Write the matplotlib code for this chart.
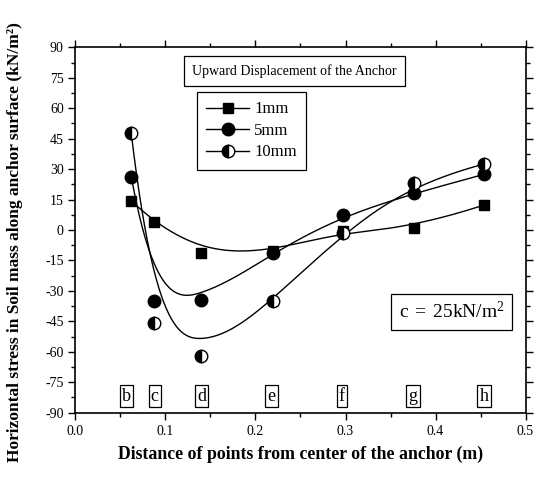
import numpy as np
import matplotlib
matplotlib.use("Agg")
import matplotlib.pyplot as plt
from matplotlib.ticker import MultipleLocator, FormatStrFormatter

plt.rcParams['font.family'] = ['Liberation Serif', 'DejaVu Serif']
plt.rcParams['axes.unicode_minus'] = False

# Measurement points along the anchor surface
point_names = ['b', 'c', 'd', 'e', 'f', 'g', 'h']
distance = [0.062, 0.087, 0.140, 0.219, 0.297, 0.376, 0.454]
label_pos = [0.057, 0.088, 0.140, 0.218, 0.296, 0.375, 0.454]

# Horizontal stress (kN/m^2) for each upward displacement
stress_1mm = [14.4, 3.8, -11.5, -10.5, -0.5, 1.1, 12.3]
stress_5mm = [26.3, -34.8, -34.5, -11.5, 7.4, 18.1, 27.4]
stress_10mm = [47.6, -46.0, -61.9, -34.8, -1.3, 23.3, 32.5]

series_names = ['1mm', '5mm', '10mm']


def bspline(xs, ys, n=300, k=3):
    """Clamped uniform B-spline using the data points as control points."""
    P = np.column_stack([xs, ys]).astype(float)
    m = len(P)
    inner = np.linspace(0, 1, m - k + 1)[1:-1]
    t = np.concatenate([np.zeros(k + 1), inner, np.ones(k + 1)])
    u = np.linspace(0, 1, n)
    u[-1] = 1 - 1e-12

    def basis(i, p, uu):
        if p == 0:
            return np.where((t[i] <= uu) & (uu < t[i + 1]), 1.0, 0.0)
        a = 0.0
        b = 0.0
        if t[i + p] != t[i]:
            a = (uu - t[i]) / (t[i + p] - t[i]) * basis(i, p - 1, uu)
        if t[i + p + 1] != t[i + 1]:
            b = (t[i + p + 1] - uu) / (t[i + p + 1] - t[i + 1]) * basis(i + 1, p - 1, uu)
        return a + b

    N = np.array([basis(i, k, u) for i in range(m)])
    C = N.T @ P
    return C[:, 0], C[:, 1]


fig = plt.figure(figsize=(5.38, 4.79), dpi=100)
ax = fig.add_axes([0.1403, 0.1384, 0.8365, 0.7629])

styles = [
    dict(marker='s', markersize=6.5, markerfacecolor='black'),
    dict(marker='o', markersize=9, markerfacecolor='black'),
    dict(marker='o', markersize=9, fillstyle='left', markerfacecolor='black',
         markerfacecoloralt='white'),
]
handles = []
for ys, name, st in zip([stress_1mm, stress_5mm, stress_10mm], series_names, styles):
    cx, cy = bspline(distance, ys)
    ax.plot(cx, cy, color='black', lw=1.0, zorder=2)
    ax.plot(distance, ys, linestyle='none', color='black', markeredgecolor='black',
            markeredgewidth=1.0, zorder=3, **st)
    h, = ax.plot([], [], color='black', lw=1.0, markeredgecolor='black', **st)
    handles.append(h)

ax.set_xlim(0.0, 0.5)
ax.set_ylim(-90, 90)
ax.xaxis.set_major_locator(MultipleLocator(0.1))
ax.xaxis.set_minor_locator(MultipleLocator(0.05))
ax.yaxis.set_major_locator(MultipleLocator(15))
ax.yaxis.set_minor_locator(MultipleLocator(7.5))
ax.tick_params(which='both', direction='out', top=True, right=True,
               labeltop=False, labelright=False, width=1.0, labelsize=10)
ax.tick_params(which='major', length=5)
ax.tick_params(which='minor', length=3)
ax.xaxis.set_major_formatter(FormatStrFormatter('%.1f'))
for s in ax.spines.values():
    s.set_linewidth(1.2)

ax.set_xlabel('Distance of points from center of the anchor (m)',
              fontsize=12.8, fontweight='bold', labelpad=6)
ax.set_ylabel('Horizontal stress in Soil mass along anchor surface (kN/m²)',
              fontsize=12.5, fontweight='bold')
ax.yaxis.set_label_coords(-0.117, 0.466)

# Point labels along the bottom of the plot
for xp, nm in zip(label_pos, point_names):
    ax.text(xp, -81.8, nm, fontsize=13, ha='center', va='center',
            bbox=dict(boxstyle='square,pad=0.12', facecolor='white',
                      edgecolor='black', linewidth=0.9))

ax.text(0.486, 0.9346, 'Upward Displacement of the Anchor', transform=ax.transAxes,
        fontsize=10, ha='center', va='center',
        bbox=dict(boxstyle='square,pad=0.6', facecolor='white',
                  edgecolor='black', linewidth=0.9))

ax.text(0.8356, 0.2756, r'$\mathregular{c\,=\,25kN/m^2}$', transform=ax.transAxes,
        fontsize=14, ha='center', va='center',
        bbox=dict(boxstyle='square,pad=0.4', facecolor='white',
                  edgecolor='black', linewidth=0.9))

leg = ax.legend(handles, series_names, loc='upper left',
                bbox_to_anchor=(0.2693, 0.8768), fontsize=12, frameon=True,
                fancybox=False, edgecolor='black', framealpha=1,
                handlelength=2.6, handletextpad=0.3, borderpad=0.55,
                labelspacing=0.33, borderaxespad=0)
leg.get_frame().set_linewidth(0.9)

fig.savefig('out.png', dpi=100)
